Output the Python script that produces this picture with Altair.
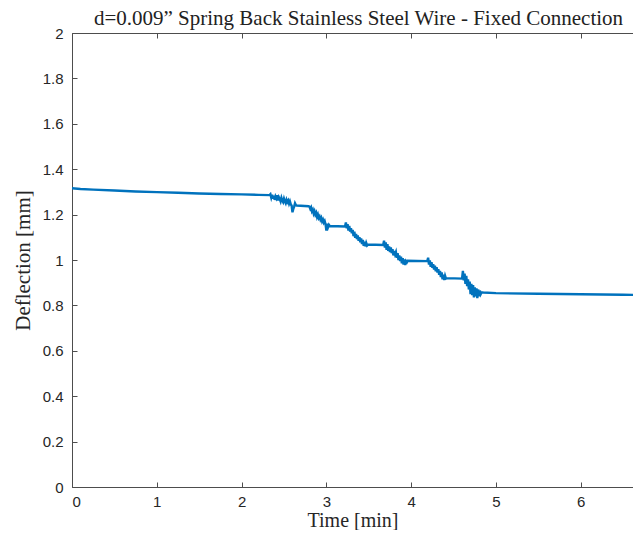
import altair as alt
import pandas as pd

# Time [min] and deflection [mm]
t_smooth = [0.0, 0.1, 0.25, 0.5, 0.75, 1.0, 1.25, 1.5, 1.75, 2.0, 2.2, 2.33]
d_smooth = [1.316, 1.313, 1.310, 1.306, 1.302, 1.299, 1.296, 1.293, 1.291, 1.289, 1.287, 1.286]

t_n1 = [2.34, 2.35, 2.36, 2.37, 2.38, 2.39, 2.40, 2.41, 2.42, 2.43, 2.44, 2.45, 2.46, 2.47, 2.48,
        2.49, 2.50, 2.51, 2.52, 2.53, 2.54, 2.55, 2.56, 2.57, 2.58, 2.59, 2.60, 2.61, 2.62, 2.63,
        2.64, 2.65, 2.79]
d_n1 = [1.29, 1.275, 1.288, 1.27, 1.283, 1.265, 1.28, 1.272, 1.285, 1.262, 1.276, 1.268, 1.258, 1.274, 1.262,
        1.255, 1.27, 1.258, 1.25, 1.265, 1.255, 1.262, 1.248, 1.258, 1.245, 1.24, 1.21, 1.225, 1.235, 1.25,
        1.242, 1.240, 1.237]

t_n2 = [2.80, 2.81, 2.82, 2.83, 2.84, 2.85, 2.86, 2.87, 2.88, 2.89, 2.90, 2.91, 2.92, 2.93, 2.94,
        2.95, 2.96, 2.97, 2.98, 2.99, 3.00, 3.01, 3.02, 3.03, 3.04, 3.22]
d_n2 = [1.235, 1.225, 1.232, 1.215, 1.222, 1.205, 1.215, 1.20, 1.208, 1.19, 1.2, 1.185, 1.192, 1.178, 1.186,
        1.17, 1.178, 1.165, 1.172, 1.158, 1.13, 1.16, 1.145, 1.155, 1.150, 1.148]

t_n3 = [3.23, 3.24, 3.25, 3.26, 3.27, 3.28, 3.29, 3.30, 3.31, 3.32, 3.33, 3.34, 3.35, 3.36, 3.37,
        3.38, 3.39, 3.40, 3.41, 3.42, 3.43, 3.44, 3.45, 3.46, 3.47, 3.48, 3.49, 3.67]
d_n3 = [1.165, 1.14, 1.158, 1.13, 1.15, 1.125, 1.14, 1.118, 1.132, 1.105, 1.125, 1.098, 1.115, 1.092, 1.108,
        1.085, 1.1, 1.078, 1.095, 1.07, 1.088, 1.062, 1.08, 1.06, 1.075, 1.064, 1.068, 1.066]

t_n4 = [3.68, 3.69, 3.70, 3.71, 3.72, 3.73, 3.74, 3.75, 3.76, 3.77, 3.78, 3.79, 3.80, 3.81, 3.82,
        3.83, 3.84, 3.85, 3.86, 3.87, 3.88, 3.89, 3.90, 3.91, 3.92, 3.93, 3.94, 3.95, 3.96, 4.19]
d_n4 = [1.085, 1.055, 1.078, 1.045, 1.07, 1.04, 1.06, 1.035, 1.055, 1.03, 1.048, 1.02, 1.04, 1.025, 1.035,
        1.01, 1.03, 1.0, 1.02, 0.995, 1.015, 0.985, 1.008, 0.98, 1.002, 0.978, 0.995, 0.99, 0.997, 0.995]

t_n5 = [4.20, 4.21, 4.22, 4.23, 4.24, 4.25, 4.26, 4.27, 4.28, 4.29, 4.30, 4.31, 4.32, 4.33, 4.34,
        4.35, 4.36, 4.37, 4.38, 4.39, 4.40, 4.41, 4.42, 4.60]
d_n5 = [1.01, 0.98, 0.998, 0.97, 0.99, 0.965, 0.982, 0.958, 0.975, 0.95, 0.968, 0.945, 0.96, 0.935, 0.952,
        0.925, 0.945, 0.915, 0.935, 0.912, 0.93, 0.918, 0.92, 0.918]

t_n6 = [4.61, 4.62, 4.63, 4.64, 4.65, 4.66, 4.67, 4.68, 4.69, 4.70, 4.71, 4.72, 4.73, 4.74, 4.75,
        4.76, 4.77, 4.78, 4.79, 4.80, 4.81, 4.82, 4.83]
d_n6 = [0.952, 0.91, 0.94, 0.895, 0.93, 0.885, 0.915, 0.87, 0.905, 0.85, 0.895, 0.845, 0.89, 0.835, 0.88,
        0.84, 0.875, 0.832, 0.87, 0.84, 0.865, 0.85, 0.858]

t_tail = [4.85, 5.0, 5.5, 6.0, 6.5, 6.75]
d_tail = [0.857, 0.854, 0.851, 0.849, 0.847, 0.846]

x_ticks = [0, 1, 2, 3, 4, 5, 6]
y_ticks = [0, 0.2, 0.4, 0.6, 0.8, 1.0, 1.2, 1.4, 1.6, 1.8, 2.0]

time = t_smooth + t_n1 + t_n2 + t_n3 + t_n4 + t_n5 + t_n6 + t_tail
defl = d_smooth + d_n1 + d_n2 + d_n3 + d_n4 + d_n5 + d_n6 + d_tail
df = pd.DataFrame({"t": time, "d": defl})

W, H = 561, 454
AX = "#4d4d4d"
LAB = "#262626"
SANS = "Liberation Sans"
SERIF = "Liberation Serif"

xs = alt.Scale(domain=[0, 6.616], nice=False, zero=False)
ys = alt.Scale(domain=[0, 2], nice=False)

base = alt.Chart(df)

main = base.mark_line(color="#0072BD", strokeWidth=2.4, clip=True).encode(
    x=alt.X("t:Q", scale=xs, axis=alt.Axis(
        orient="bottom", values=x_ticks, title="Time [min]", grid=False,
        tickSize=0, labelPadding=7, labelFont=SANS, labelFontSize=15,
        labelColor=LAB, domainColor=AX, domainWidth=1,
        titleFont=SERIF, titleFontSize=20, titleFontWeight="normal",
        titleColor=LAB, titlePadding=1, format="~g")),
    y=alt.Y("d:Q", scale=ys, axis=alt.Axis(
        orient="left", values=y_ticks, title="Deflection [mm]", grid=False,
        tickSize=0, labelPadding=9, labelFont=SANS, labelFontSize=15,
        labelColor=LAB, domainColor=AX, domainWidth=1,
        titleFont=SERIF, titleFontSize=21, titleFontWeight="normal",
        titleColor=LAB, titlePadding=9, format="~g")),
)

# inward ticks at bottom and left
inner1 = base.mark_line(opacity=0).encode(
    x=alt.X("t:Q", scale=xs, axis=alt.Axis(
        orient="top", offset=-H, values=x_ticks, labels=False, domain=False,
        grid=False, tickSize=5, tickColor=AX, title=None)),
    y=alt.Y("d:Q", scale=ys, axis=alt.Axis(
        orient="right", offset=-W, values=y_ticks, labels=False, domain=False,
        grid=False, tickSize=5, tickColor=AX, title=None)),
)

# top border with inward ticks
inner2 = base.mark_line(opacity=0).encode(
    x=alt.X("t:Q", scale=xs, axis=alt.Axis(
        orient="bottom", offset=-H, values=x_ticks, labels=False, domain=True,
        domainColor=AX, domainWidth=1,
        grid=False, tickSize=5, tickColor=AX, title=None)),
    y=alt.Y("d:Q", scale=ys, axis=None),
)

chart = alt.layer(main, inner1, inner2).resolve_axis(
    x="independent", y="independent"
).properties(
    width=W, height=H,
    autosize=alt.AutoSizeParams(type="none"),
    padding={"left": 64, "top": 25, "right": 0, "bottom": 43},
    title=alt.Title("d=0.009\u201d Spring Back Stainless Steel Wire - Fixed Connection",
                    font=SERIF, fontSize=21, fontWeight="normal", color="#222222",
                    anchor="middle", frame="group", offset=-3, dx=6),
).configure_view(stroke=None).configure(background="white")

chart.save("out.html", embed_options={"renderer": "svg", "actions": False})
